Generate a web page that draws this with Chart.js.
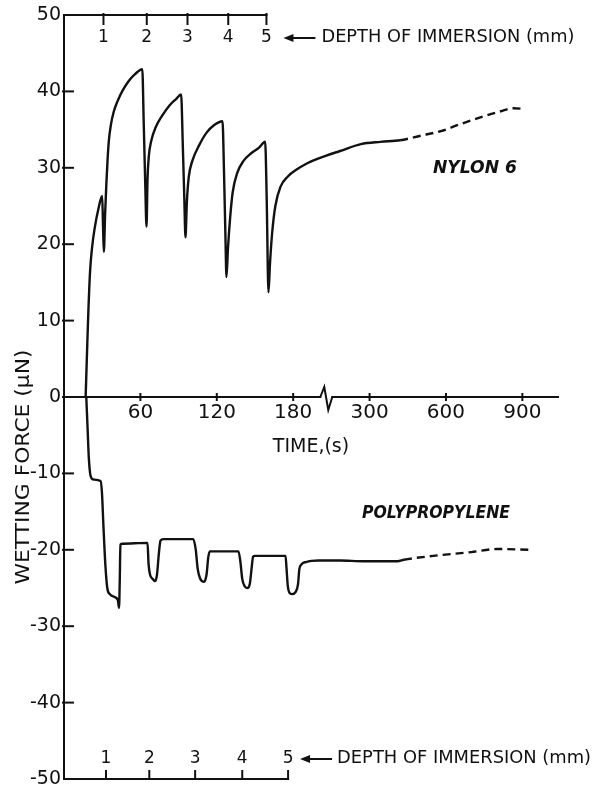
<!DOCTYPE html>
<html><head><meta charset="utf-8">
<script src="https://cdn.jsdelivr.net/npm/chart.js@4.4.1/dist/chart.umd.min.js"></script>
<style>html,body{margin:0;padding:0;background:#fff}#wrap{width:600px;height:788px;position:relative}</style>
</head><body><div id="wrap"><canvas id="c"></canvas></div>
<script>
// ---- data (time in seconds, force in µN) ----
const nylonTime = [17,18.3,19.2,20.5,22,24,27,30,30.7,31.3,32.3,33.3,34.2,35.2,36.8,39,42,46,51,56,61.5,62.6,63.8,64.8,65.6,66.6,68.5,72,77,83,88,92,93.3,94.5,95.4,96.5,98,101,106,112,118,124.5,125.6,126.8,127.6,128.8,130.5,132.5,136,141,147,153,158,159.2,160.6,161.8,163.5,166,170,176,183,190,198,206,236,281,343,420,500,580,655,735,815,865,912];
const nylonForce = [0,7,11.5,16.5,19.5,22,24.6,26.3,22,19,24,28,31,33.5,35.6,37.3,38.7,40.1,41.4,42.3,42.9,36,28,22.3,28.5,31.5,33.5,35.3,36.8,38.2,39,39.6,33,26,20.9,25.5,28.8,31,32.9,34.6,35.6,36.1,30,21,15.7,19.5,23.5,26.8,29.3,30.9,31.9,32.6,33.4,26,13.7,17.5,21.5,25,27.5,28.9,29.8,30.5,31.1,31.6,32.2,33.1,33.4,33.6,34.2,34.8,35.7,36.6,37.4,37.8,37.7];
const ppTime = [17.5,18.5,19.5,20.5,21.5,23,28.7,29.8,31,32.5,34,36,40,42.3,43.2,43.8,44.3,46,65.6,66.4,67.5,69.5,71.5,73,74.5,75.8,78,101.5,103.5,105,107,110,112,113.3,114.5,137,138.5,140,142,144,146,147.3,148.5,150,174,174.8,175.8,177,179,182,183.8,184.8,186.5,190,200,236,286,410,435,550,700,802,925];
const ppForce = [0,-4,-8,-10,-10.6,-10.8,-11,-12.5,-17,-22,-25,-25.8,-26.2,-26.6,-27.6,-24,-19.3,-19.2,-19.1,-21.8,-23.2,-23.8,-24.1,-23.3,-20.5,-18.8,-18.6,-18.6,-20,-22.5,-23.8,-24.2,-23.2,-21,-20.2,-20.2,-21.5,-23.8,-24.8,-25,-24.4,-22.5,-20.9,-20.8,-20.8,-22.5,-24.8,-25.6,-25.8,-25.5,-24.5,-22.6,-21.9,-21.6,-21.4,-21.4,-21.5,-21.5,-21.3,-20.8,-20.3,-19.9,-20.0];
const nylonDashFrom = 420;
const ppDashFrom = 435;
const timeTickValues = [60,120,180,300,600,900];
const timeTickLabels = ['60','120','180','300','600','900'];
const depthLabels = ['1','2','3','4','5'];
const depthTopTimes = [31,65,97,129,159];
const depthBottomTimes = [33,67,103,140,176];
const breakTime = 206;

// broken time axis: linear to the break, compressed gap, then 300 s per 60 units
function toAxis(t){
  if (t <= breakTime) return t;
  if (t < 300) return breakTime + (t - breakTime) * (240 - breakTime) / (300 - breakTime);
  return 240 + (t - 300) / 5;
}

const ink = '#111';
const FONT = '"DejaVu Sans", "Liberation Sans", sans-serif';

function fitText(ctx, text, x, y, w, align){
  const m = ctx.measureText(text).width;
  const sx = w / m;
  ctx.save(); ctx.translate(x, y); ctx.scale(sx, 1);
  ctx.textAlign = align || 'left'; ctx.textBaseline = 'middle';
  ctx.fillText(text, 0, 0); ctx.restore();
}
function seg(ctx, x1, y1, x2, y2){ ctx.beginPath(); ctx.moveTo(x1,y1); ctx.lineTo(x2,y2); ctx.stroke(); }
function arrow(ctx, xs, xe, yy){
  seg(ctx, xs + 6, yy, xe, yy);
  ctx.beginPath(); ctx.moveTo(xs, yy); ctx.lineTo(xs + 10, yy - 4); ctx.lineTo(xs + 10, yy + 4); ctx.closePath(); ctx.fill();
}

const decor = {
  id: 'decor',
  afterDraw(chart){
    const {ctx, chartArea: a, scales: {x, y}} = chart;
    const y0 = y.getPixelForValue(0);
    ctx.save();
    ctx.strokeStyle = ink; ctx.fillStyle = ink; ctx.lineWidth = 2;
    // inward y ticks
    y.ticks.forEach(tk => {
      if (Math.abs(tk.value) >= 50) return;
      const py = y.getPixelForValue(tk.value);
      seg(ctx, a.left - 2, py, a.left + 10, py);
    });
    // crossing x ticks
    x.ticks.forEach(tk => {
      const px = x.getPixelForValue(tk.value);
      seg(ctx, px, y0 - 4, px, y0 + 4);
    });
    // axis break
    const bx = x.getPixelForValue(toAxis(breakTime));
    ctx.fillStyle = '#fff'; ctx.fillRect(bx - 5, y0 - 2, 10, 4); ctx.fillStyle = ink;
    ctx.beginPath();
    ctx.moveTo(bx - 6, y0); ctx.lineTo(bx - 2, y0 - 10); ctx.lineTo(bx + 2, y0 + 13); ctx.lineTo(bx + 6, y0);
    ctx.stroke();

    // depth axes
    ctx.font = '17px ' + FONT; ctx.textAlign = 'center'; ctx.textBaseline = 'middle';
    const topPx = depthTopTimes.map(t => x.getPixelForValue(toAxis(t)));
    const botPx = depthBottomTimes.map(t => x.getPixelForValue(toAxis(t)));
    seg(ctx, a.left, a.top, topPx[topPx.length - 1] + 1, a.top);
    topPx.forEach((px, i) => { seg(ctx, px, a.top - 2, px, a.top + 10); ctx.fillText(depthLabels[i], px, a.top + 23); });
    seg(ctx, a.left, a.bottom, botPx[botPx.length - 1] + 1, a.bottom);
    botPx.forEach((px, i) => { seg(ctx, px, a.bottom - 9, px, a.bottom + 1); ctx.fillText(depthLabels[i], px, a.bottom - 20); });

    const t5 = topPx[topPx.length - 1], b5 = botPx[botPx.length - 1];
    arrow(ctx, t5 + 17, t5 + 49, a.top + 23);
    fitText(ctx, 'DEPTH OF IMMERSION (mm)', t5 + 55, a.top + 23, 253);
    arrow(ctx, b5 + 12, b5 + 44, a.bottom - 20);
    ctx.font = '17px ' + FONT;
    fitText(ctx, 'DEPTH OF IMMERSION (mm)', b5 + 49, a.bottom - 20, 254);

    // y title
    ctx.save();
    ctx.translate(24, 467); ctx.rotate(-Math.PI / 2);
    ctx.font = '20px ' + FONT;
    fitText(ctx, 'WETTING FORCE (\u03bcN)', 0, 0, 235, 'center');
    ctx.restore();

    // series labels
    ctx.font = 'italic bold 17px ' + FONT;
    fitText(ctx, 'NYLON 6', 475, 169, 84, 'center');
    fitText(ctx, 'POLYPROPYLENE', 436, 514, 148, 'center');
    ctx.restore();
  }
};

function series(ts, fs){ return ts.map((t, i) => ({x: toAxis(t), y: fs[i]})); }
function dashAfter(t){ const u = toAxis(t); return c => (c.p0.parsed.x >= u - 1e-6 ? [8, 5] : undefined); }

new Chart(document.getElementById('c'), {
  type: 'line',
  data: {
    datasets: [
      { label: 'Nylon 6', data: series(nylonTime, nylonForce), borderColor: ink, borderWidth: 2.4,
        pointRadius: 0, cubicInterpolationMode: 'monotone', borderJoinStyle: 'round',
        segment: { borderDash: dashAfter(nylonDashFrom) } },
      { label: 'Polypropylene', data: series(ppTime, ppForce), borderColor: ink, borderWidth: 2.4,
        pointRadius: 0, cubicInterpolationMode: 'monotone', borderJoinStyle: 'round',
        segment: { borderDash: dashAfter(ppDashFrom) } }
    ]
  },
  options: {
    responsive: true, maintainAspectRatio: false, devicePixelRatio: 1,
    animation: false, events: [],
    layout: { padding: { left: 0, right: 42, top: 15, bottom: 9 } },
    plugins: { legend: { display: false }, tooltip: { enabled: false } },
    scales: {
      x: {
        type: 'linear', min: 0, max: 388, position: { y: 0 },
        grid: { display: false, drawTicks: false },
        border: { display: true, width: 2, color: ink },
        afterBuildTicks: s => { s.ticks = timeTickValues.map(t => ({ value: toAxis(t) })); },
        afterFit: s => { s.paddingLeft = 0; s.paddingRight = 0; },
        ticks: { autoSkip: false, maxRotation: 0, padding: 4, color: ink,
          font: { family: FONT, size: 20 },
          callback: (v, i) => timeTickLabels[i] },
        title: { display: true, text: 'TIME,(s)', color: ink, font: { family: FONT, size: 19 }, padding: { top: 7, bottom: 0 } }
      },
      y: {
        type: 'linear', min: -50, max: 50,
        grid: { display: false, drawTicks: false },
        border: { display: true, width: 2, color: ink },
        afterFit: s => { s.width = 64; s.paddingTop = 0; s.paddingBottom = 0; },
        ticks: { stepSize: 10, padding: 3, color: ink, font: { family: FONT, size: 19 } }
      }
    }
  },
  plugins: [decor]
});
</script>
</body></html>
